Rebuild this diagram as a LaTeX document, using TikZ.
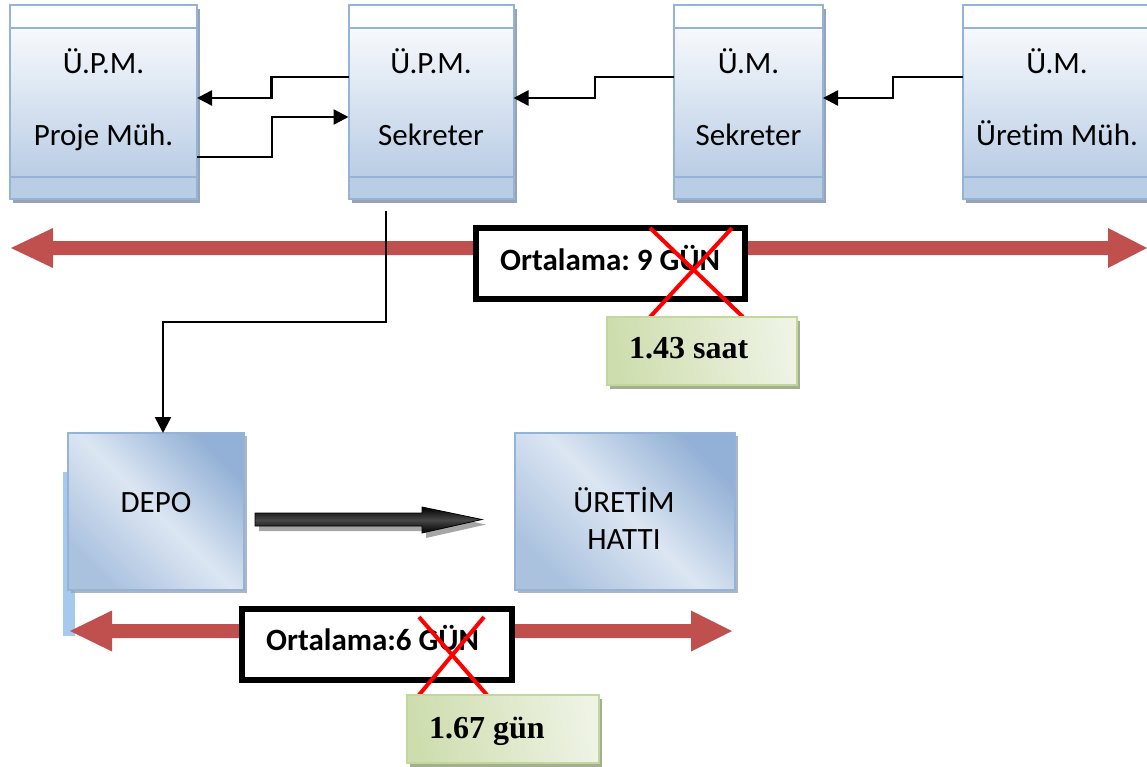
\documentclass[tikz,border=0pt]{standalone}
\usepackage{fontspec}
\setmainfont{Carlito}[Ligatures=NoCommon]
\newfontfamily\numfont{Liberation Serif}
\usetikzlibrary{arrows.meta,shadows}
\frenchspacing

\definecolor{boxline}{HTML}{95B3D7}
\definecolor{boxtop}{HTML}{F7F9FC}
\definecolor{boxbot}{HTML}{B9CDE5}
\definecolor{boxshadow}{HTML}{98A4B5}
\definecolor{blockdark}{HTML}{93B1D6}
\definecolor{blocklight}{HTML}{DCE6F2}
\definecolor{blockmid}{HTML}{ABC2DF}
\definecolor{spanred}{HTML}{C0504D}
\definecolor{notedark}{HTML}{CEDDAE}
\definecolor{notelight}{HTML}{EEF3E4}
\definecolor{noteline}{HTML}{C3D69B}
\definecolor{noteshadow}{HTML}{A3AF8E}
\definecolor{stripblue}{HTML}{A6C9EE}

\tikzset{
  unitbox/.style={rectangle, inner sep=0pt, outer sep=0pt, minimum height=194pt,
    minimum width=#1, fill=white,
    drop shadow={shadow xshift=3pt, shadow yshift=-4pt, fill=boxshadow, opacity=1}},
  bandline/.style={draw=boxline, line width=2pt},
  blockbox/.style={rectangle, inner sep=0pt, outer sep=0pt, minimum height=157pt,
    minimum width=#1, draw=boxline, line width=1.5pt,
    top color=blockdark, bottom color=blockmid, middle color=blocklight, shading angle=-45,
    drop shadow={shadow xshift=3pt, shadow yshift=-3pt, fill=boxshadow, opacity=0.8}},
  avgbox/.style={rectangle, inner sep=0pt, outer sep=0pt, minimum width=#1,
    minimum height=71pt, draw=black, line width=6pt, fill=white},
  notebox/.style={rectangle, inner sep=0pt, outer sep=0pt, minimum width=#1,
    minimum height=68pt, draw=noteline, line width=1.5pt,
    left color=notedark, right color=notelight, shading angle=100,
    drop shadow={shadow xshift=3pt, shadow yshift=-4pt, fill=noteshadow, opacity=1}},
  lbl/.style={anchor=base, inner sep=0pt, font=\fontsize{31}{36}\selectfont},
  avglbl/.style={anchor=base west, inner sep=0pt, font=\fontsize{31}{36}\selectfont\bfseries},
  notelbl/.style={anchor=base west, inner sep=0pt, font=\numfont\bfseries\fontsize{32}{36}\selectfont},
  flow/.style={draw=black, line width=2.5pt, -{Triangle[length=15pt,width=15pt]}},
  cross/.style={draw=red, line width=4pt},
  span/.style={fill=spanred}
}

\begin{document}
\begin{tikzpicture}[x=1pt,y=-1pt]
\useasboundingbox (0,0) rectangle (1147,767);
\clip (0,0) rectangle (1147,767);

% --- top row of offices ---
\node[unitbox=187pt] (upmproje) at (103.5,102) {};
\node[unitbox=165pt] (upmsek)   at (431,102) {};
\node[unitbox=149pt] (umsek)    at (748.5,102) {};
\node[unitbox=188pt] (umuretim) at (1057,102) {};

\foreach \n in {upmproje,upmsek,umsek,umuretim}{
  \fill[white] (\n.north west) rectangle ([yshift=-23pt]\n.north east);
  \shade[top color=boxtop, bottom color=boxbot]
    ([yshift=-23pt]\n.north west) rectangle ([yshift=22pt]\n.south east);
  \fill[boxbot] ([yshift=22pt]\n.south west) rectangle (\n.south east);
  \draw[bandline] (\n.north west) rectangle (\n.south east);
  \draw[bandline] ([yshift=-23pt]\n.north west) -- ([yshift=-23pt]\n.north east);
  \draw[bandline] ([yshift=22pt]\n.south west) -- ([yshift=22pt]\n.south east);
}

\node[lbl] (upmprojeA) at (103.5,74)  {Ü.P.M.};
\node[lbl] (upmprojeB) at (103.5,146) {Proje Müh.};
\node[lbl] (upmsekA)   at (431,74)    {Ü.P.M.};
\node[lbl] (upmsekB)   at (431,146)   {Sekreter};
\node[lbl] (umsekA)    at (748.5,74)  {Ü.M.};
\node[lbl] (umsekB)    at (748.5,146) {Sekreter};
\node[lbl] (umuretimA) at (1057,74)   {Ü.M.};
\node[lbl] (umuretimB) at (1057,146)  {Üretim Müh.};

% --- top time span ---
\fill[span] (11,248) -- (53,228) -- (53,241) -- (1108,241) -- (1108,228) -- (1147,248)
  -- (1108,268) -- (1108,255) -- (53,255) -- (53,268) -- cycle;

% --- document flow between offices ---
\draw[flow] ([yshift=25pt]upmsek.west) -- ++(-77,0) |- ([yshift=4pt]upmproje.east);
\draw[flow] ([yshift=-55pt]upmproje.east) -- ++(75,0) |- ([yshift=-15pt]upmsek.west);
\draw[flow] ([yshift=25pt]umsek.west) -- ++(-79,0) |- ([yshift=4pt]upmsek.east);
\draw[flow] ([yshift=25pt]umuretim.west) -- ++(-70,0) |- ([yshift=4pt]umsek.east);

% --- average for the office chain ---
\node[avgbox=269pt] (avg9) at (610.5,263.5) {};
\node[avglbl] (avg9lbl) at (500,270) {Ortalama: 9 GÜN};
\draw[cross] (650,228) -- (743,317);
\draw[cross] (732,228) -- (650,317);
\node[notebox=190pt] (note143) at (702,351) {};
\node[notelbl] (note143lbl) at (629,358) {1.43 saat};

% --- warehouse and production line ---
\fill[stripblue] (63,472) rectangle (75,636);
\node[blockbox=176pt] (depo) at (156,511.5) {};
\node[blockbox=220pt] (uretim) at (625,511.5) {};
\node[lbl] (depolbl) at (156,512) {DEPO};
\node[lbl] (uretimA) at (624,512) {ÜRETİM};
\node[lbl] (uretimB) at (624,549) {HATTI};

\draw[flow, -{Triangle[length=16pt,width=16pt]}]
  ([xshift=-45pt,yshift=-12pt]upmsek.south) -- ++(0,111) -| ([xshift=7pt]depo.north);

% block arrow from warehouse to line
\fill[gray!70] (259,518) -- (426,518) -- (426,512) -- (486,524.5) -- (426,538)
  -- (426,531) -- (259,531) -- cycle;
\shade[top color=black, bottom color=black, middle color=black!72, draw=black, line width=0.8pt]
  (255,513) -- (422,513) -- (422,507) -- (482,519.5) -- (422,533) -- (422,526)
  -- (255,526) -- cycle;

% --- bottom time span ---
\fill[span] (70,631) -- (112,610.5) -- (112,624) -- (691,624) -- (691,610.5) -- (732,631)
  -- (691,651.5) -- (691,638) -- (112,638) -- (112,651.5) -- cycle;
\node[avgbox=270pt] (avg6) at (377,644.5) {};
\node[avglbl] (avg6lbl) at (266,650) {Ortalama:6 GÜN};
\draw[cross] (419,617) -- (487,695);
\draw[cross] (484,617) -- (419,695);
\node[notebox=192pt] (note167) at (503,729) {};
\node[notelbl] (note167lbl) at (429,738) {1.67 gün};
\end{tikzpicture}
\end{document}
